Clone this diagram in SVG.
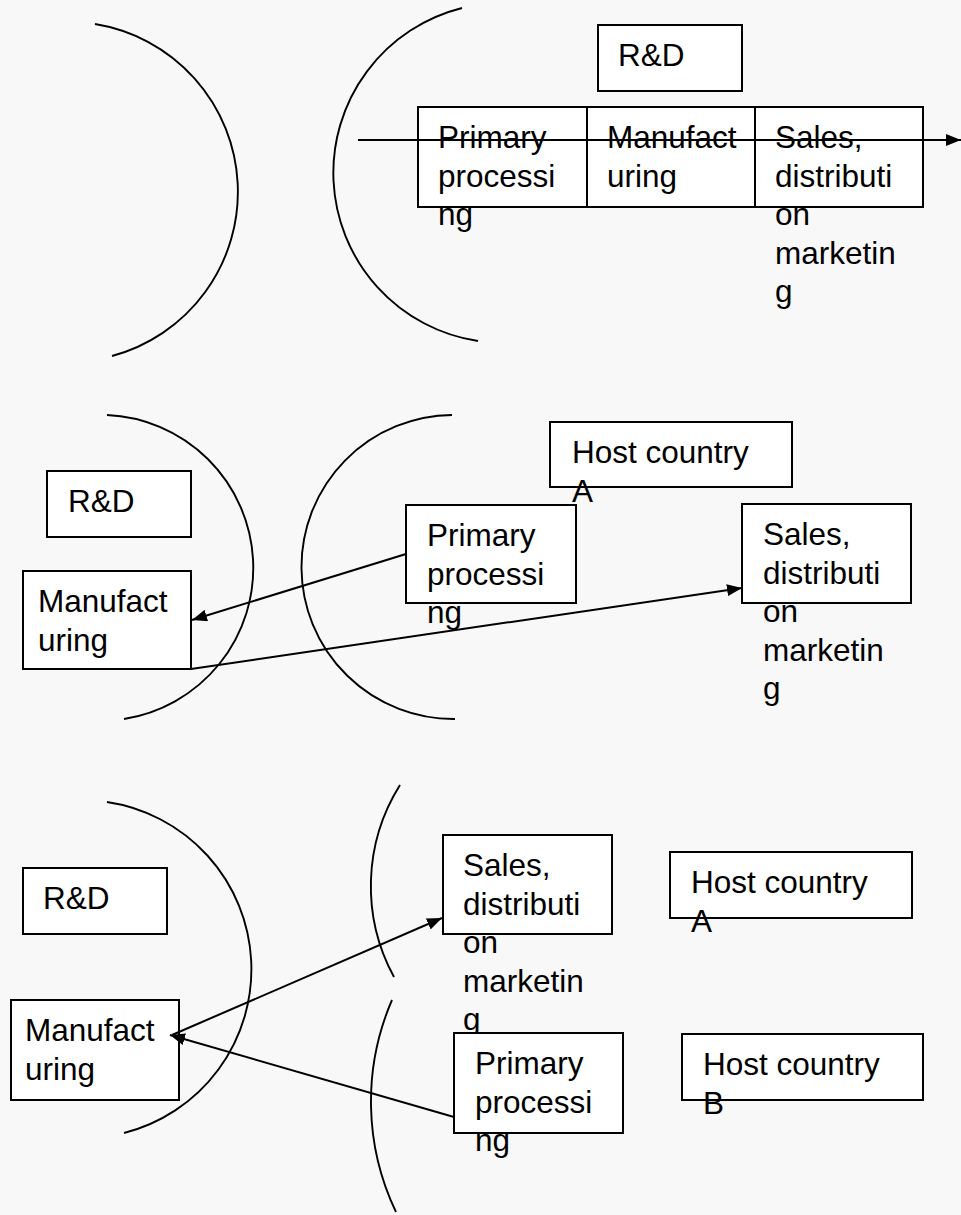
<svg xmlns="http://www.w3.org/2000/svg" width="961" height="1215" viewBox="0 0 961 1215">
<style>
.bg{fill:#f8f8f8}
.box{fill:#ffffff;stroke:#000;stroke-width:2}
.arc{fill:none;stroke:#000;stroke-width:1.9}
.con{fill:none;stroke:#000;stroke-width:2}
text{font-family:"Liberation Sans",Arial,sans-serif;font-size:31.5px;fill:#000}
</style>
<defs>
<marker id="ah" markerUnits="userSpaceOnUse" markerWidth="15" markerHeight="12" viewBox="0 0 15 12" refX="15" refY="6" orient="auto">
<path d="M0,0 L15,6 L0,12 z" fill="#000"/>
</marker>
</defs>
<rect class="bg" x="0" y="0" width="961" height="1215"/>
<g id="arcs">
<path class="arc" d="M95,24 A170,170 0 0 1 112,356"/>
<path class="arc" d="M462,8 A170,170 0 0 0 478,341"/>
<path class="arc" d="M107,415 A153,153 0 0 1 124,719"/>
<path class="arc" d="M452,415 A152,152 0 0 0 455,719"/>
<path class="arc" d="M107,802 A169,169 0 0 1 124,1133"/>
<path class="arc" d="M400,785 A190,190 0 0 0 394,977"/>
<path class="arc" d="M392,1000 A256,256 0 0 0 396,1212"/>
</g>
<g id="top-rd"><rect class="box" x="598" y="25" width="144" height="66"/><text x="618" y="66">R&amp;D</text></g>
<g id="top-primary"><rect class="box" x="418" y="107" width="169" height="100"/><text x="438" y="148">Primary</text><text x="438" y="186.5">processi</text><text x="438" y="225">ng</text></g>
<g id="top-manufacturing"><rect class="box" x="587" y="107" width="168" height="100"/><text x="607" y="148">Manufact</text><text x="607" y="186.5">uring</text></g>
<g id="top-sales"><rect class="box" x="755" y="107" width="168" height="100"/><text x="775" y="148">Sales,</text><text x="775" y="186.5">distributi</text><text x="775" y="225">on</text><text x="775" y="263.5">marketin</text><text x="775" y="302">g</text></g>
<g id="mid-rd"><rect class="box" x="47" y="471" width="144" height="66"/><text x="68" y="512">R&amp;D</text></g>
<g id="mid-manufacturing"><rect class="box" x="23" y="571" width="168" height="98"/><text x="38" y="612">Manufact</text><text x="38" y="650.5">uring</text></g>
<g id="mid-host-a"><rect class="box" x="550" y="422" width="242" height="65"/><text x="572" y="463">Host country</text><text x="572" y="501.5">A</text></g>
<g id="mid-primary"><rect class="box" x="406" y="505" width="170" height="98"/><text x="427" y="546">Primary</text><text x="427" y="584.5">processi</text><text x="427" y="623">ng</text></g>
<g id="mid-sales"><rect class="box" x="742" y="504" width="169" height="99"/><text x="763" y="545">Sales,</text><text x="763" y="583.5">distributi</text><text x="763" y="622">on</text><text x="763" y="660.5">marketin</text><text x="763" y="699">g</text></g>
<g id="bot-rd"><rect class="box" x="23" y="868" width="144" height="66"/><text x="43" y="909">R&amp;D</text></g>
<g id="bot-manufacturing"><rect class="box" x="11" y="1000" width="168" height="100"/><text x="25" y="1041">Manufact</text><text x="25" y="1079.5">uring</text></g>
<g id="bot-sales"><rect class="box" x="443" y="835" width="169" height="99"/><text x="463" y="876">Sales,</text><text x="463" y="914.5">distributi</text><text x="463" y="953">on</text><text x="463" y="991.5">marketin</text><text x="463" y="1030">g</text></g>
<g id="bot-primary"><rect class="box" x="454" y="1033" width="169" height="100"/><text x="475" y="1074">Primary</text><text x="475" y="1112.5">processi</text><text x="475" y="1151">ng</text></g>
<g id="bot-host-a"><rect class="box" x="670" y="852" width="242" height="66"/><text x="691" y="893">Host country</text><text x="691" y="931.5">A</text></g>
<g id="bot-host-b"><rect class="box" x="682" y="1034" width="241" height="66"/><text x="703" y="1075">Host country</text><text x="703" y="1113.5">B</text></g>
<g id="connectors">
<path class="con" d="M358,140 L961,140" marker-end="url(#ah)"/>
<path class="con" d="M406,554 L192,620" marker-end="url(#ah)"/>
<path class="con" d="M191,669 L742,588" marker-end="url(#ah)"/>
<path class="con" d="M172,1035 L442,918" marker-end="url(#ah)"/>
<path class="con" d="M454,1117 L170,1035" marker-end="url(#ah)"/>
</g>
</svg>
